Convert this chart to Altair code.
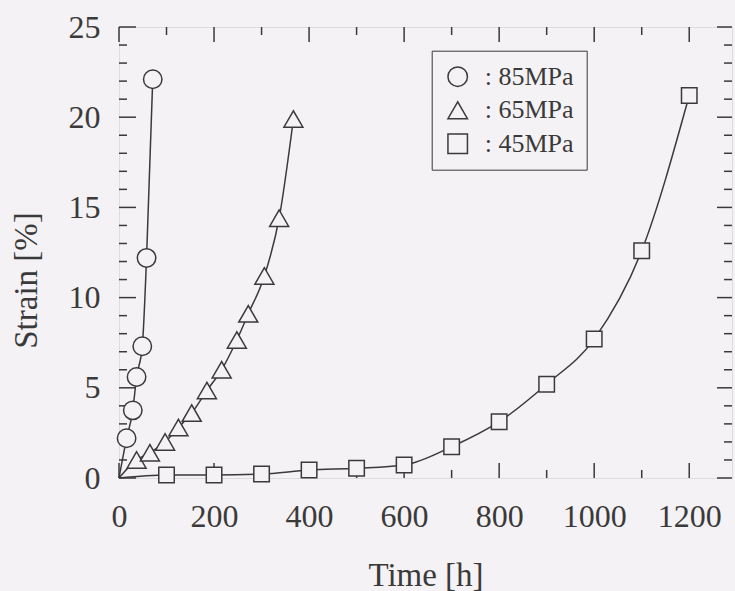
import altair as alt
import pandas as pd

# ---- data ----
series_names = ["85MPa", "65MPa", "45MPa"]

t85 = [16, 29, 37, 49, 58, 71]
s85 = [2.2, 3.75, 5.6, 7.3, 12.2, 22.1]

t65 = [37, 65, 97, 125, 153, 185, 216, 248, 272, 306, 337, 367]
s65 = [1.0, 1.4, 2.0, 2.8, 3.6, 4.85, 6.0, 7.65, 9.1, 11.2, 14.4, 19.9]

t45 = [100, 200, 300, 400, 500, 600, 700, 800, 900, 1000, 1100, 1200]
s45 = [0.17, 0.17, 0.22, 0.44, 0.54, 0.72, 1.73, 3.12, 5.2, 7.7, 12.6, 21.2]

x_major = [0, 200, 400, 600, 800, 1000, 1200]
x_minor = [100, 300, 500, 700, 900, 1100]
y_major = [0, 5, 10, 15, 20, 25]
y_minor = [v for v in range(1, 25) if v % 5 != 0]

# ---- styling ----
W, H = 613, 451
BG = "#f4f2f4"
INK = "#3a3a3a"
FONT = "Liberation Serif"
marker_sizes = [340, 361, 240]

line_rows = []
series_frames = []
for name, ts, ss in zip(series_names, [t85, t65, t45], [s85, s65, s45]):
    line_rows.append({"series": name, "time": 0, "strain": 0, "order": 0})
    for i, (t, s) in enumerate(zip(ts, ss)):
        line_rows.append({"series": name, "time": t, "strain": s, "order": i + 1})
    series_frames.append(pd.DataFrame({"series": name, "time": ts, "strain": ss}))
lines_df = pd.DataFrame(line_rows)

xscale = alt.Scale(domain=[0, 1290], nice=False, zero=False)
yscale = alt.Scale(domain=[0, 25], nice=False, zero=False)

xaxis = alt.Axis(values=x_major, format="d", ticks=False, tickSize=0, domain=False, grid=False,
                 labelFlush=False, labelPadding=23, labelFontSize=32, labelFont=FONT,
                 labelColor=INK, title="Time [h]", titleFont=FONT, titleFontSize=33,
                 titleFontWeight="normal", titleColor=INK, titleX=W / 2, titleY=107,
                 titleBaseline="alphabetic", titleAlign="center")
yaxis = alt.Axis(values=y_major, format="d", ticks=False, tickSize=0, domain=False, grid=False,
                 labelFlush=False, labelPadding=19, labelFontSize=32, labelFont=FONT,
                 labelColor=INK, title="Strain [%]", titleFont=FONT, titleFontSize=33,
                 titleFontWeight="normal", titleColor=INK, titleX=-83, titleY=253,
                 titleBaseline="alphabetic", titleAlign="center", titleAngle=270)

line = alt.Chart(lines_df).mark_line(interpolate="monotone", color=INK, strokeWidth=1.5).encode(
    x=alt.X("time:Q", scale=xscale, axis=xaxis),
    y=alt.Y("strain:Q", scale=yscale, axis=yaxis),
    detail="series:N",
    order="order:Q",
)

shape_scale = alt.Scale(domain=series_names, range=["circle", "triangle-up", "square"])
color_scale = alt.Scale(domain=series_names, range=[INK, INK, INK])
legend = alt.Legend(title=None, orient="none", legendX=312.7, legendY=23.7,
                    labelExpr="': ' + datum.label + ' '",
                    labelFont=FONT, labelFontSize=26, labelColor=INK,
                    symbolFillColor=BG, symbolStrokeColor=INK, symbolOpacity=1,
                    symbolStrokeWidth=1.5, symbolSize=380,
                    labelOffset=14, rowPadding=7.5, padding=13,
                    strokeColor=INK, fillColor=BG)

point_layers = []
for df, sz in zip(series_frames, marker_sizes):
    point_layers.append(
        alt.Chart(df).mark_point(filled=False, fill=BG, fillOpacity=1,
                                 strokeWidth=1.5, opacity=1, size=sz).encode(
            x=alt.X("time:Q", scale=xscale),
            y=alt.Y("strain:Q", scale=yscale),
            shape=alt.Shape("series:N", scale=shape_scale, sort=series_names, legend=legend),
            color=alt.Color("series:N", scale=color_scale, sort=series_names, legend=legend),
        )
    )

def vticks(vals, y0, y1):
    return alt.Chart(pd.DataFrame({"v": vals})).mark_rule(color=INK, strokeWidth=1.5).encode(
        x=alt.X("v:Q", scale=xscale), y=alt.value(y0), y2=alt.value(y1))

def hticks(vals, x0, x1):
    return alt.Chart(pd.DataFrame({"v": vals})).mark_rule(color=INK, strokeWidth=1.5).encode(
        y=alt.Y("v:Q", scale=yscale), x=alt.value(x0), x2=alt.value(x1))

ticks = [
    vticks(x_major, H, H - 15), vticks(x_minor, H, H - 8),
    vticks(x_major, 0, 15), vticks(x_minor, 0, 8),
    hticks(y_major, 0, 17), hticks(y_minor, 0, 8),
    hticks(y_major, W, W - 15), hticks(y_minor, W, W - 8),
]

chart = alt.layer(line, *ticks, *point_layers).properties(
    width=W, height=H,
    autosize=alt.AutoSizeParams(type="none"),
    padding={"left": 119, "top": 27, "right": 3, "bottom": 113},
    background=BG,
).configure_view(stroke=INK, strokeWidth=1.6).configure(font=FONT)

chart.save("out.html", embed_options={"renderer": "svg", "actions": False})
